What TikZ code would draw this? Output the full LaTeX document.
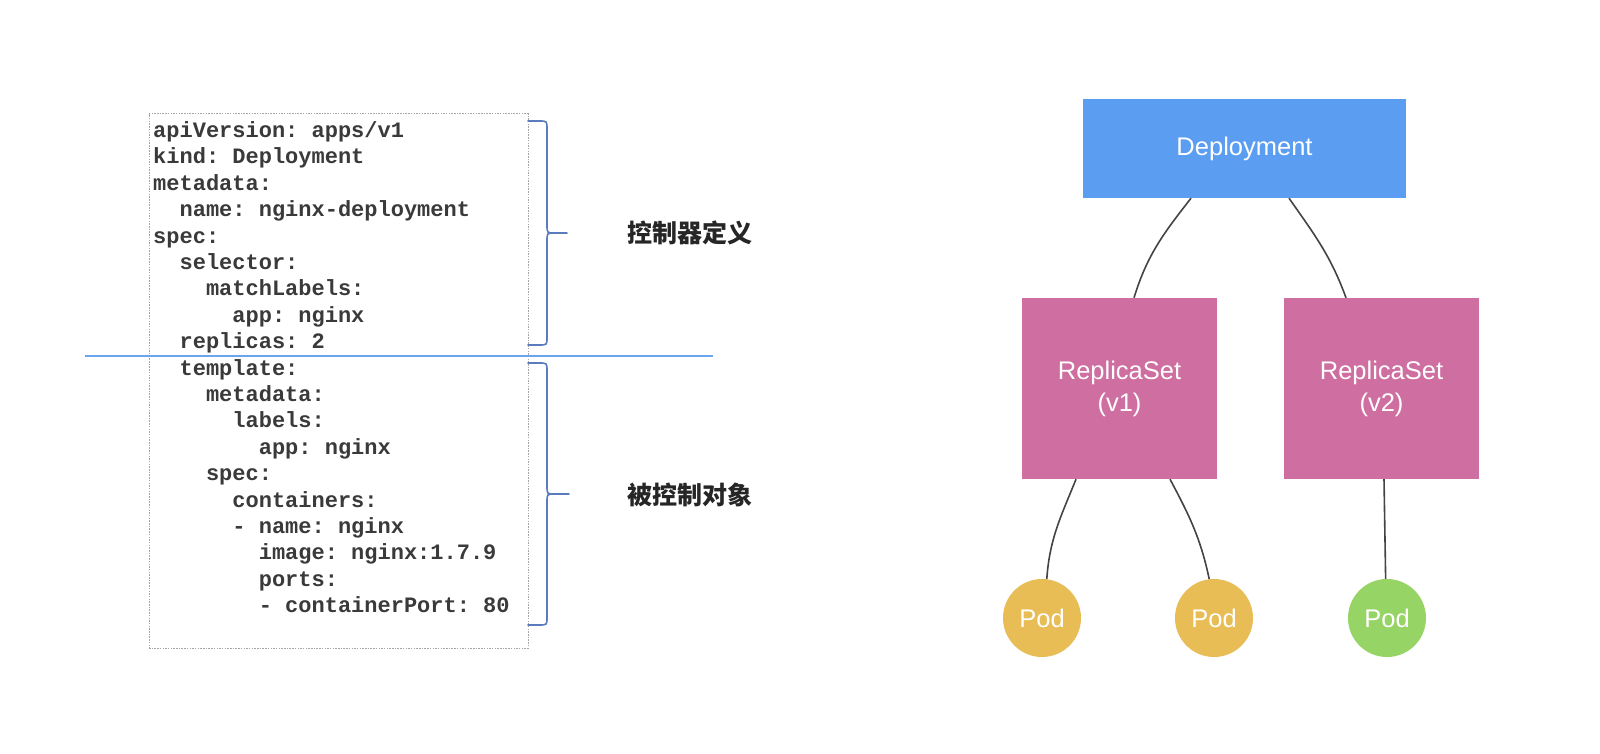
\documentclass[tikz,border=0pt]{standalone}
\usepackage{fontspec}
\setmainfont{Liberation Sans}
\newfontfamily\codefont{Liberation Mono}
\newfontfamily\cjk{Noto Sans CJK SC}
\definecolor{depblue}{HTML}{5B9DF1}
\definecolor{rspink}{HTML}{CF6EA0}
\definecolor{podyellow}{HTML}{E8BD55}
\definecolor{podgreen}{HTML}{96D465}
\definecolor{linkgray}{HTML}{444444}
\definecolor{codegray}{HTML}{3A3A3A}
\definecolor{bracecol}{HTML}{5A7CBC}
\definecolor{splitblue}{HTML}{6AA5EE}
\begin{document}
\begin{tikzpicture}[x=1pt,y=-1pt,
  box/.style={rectangle,draw=none,inner sep=0pt,text=white,align=center,
    font=\fontsize{25.5}{32}\selectfont},
  podnode/.style={circle,draw=none,inner sep=0pt,minimum size=78pt,text=white,
    font=\fontsize{25.5}{30}\selectfont},
  link/.style={draw=linkgray,line width=1.6pt},
  codeline/.style={anchor=base west,inner sep=0pt,text=codegray,
    font=\codefont\bfseries\fontsize{22}{26}\selectfont\frenchspacing},
  cjklabel/.style={anchor=west,inner sep=0pt,text=black!85,
    font=\cjk\bfseries\fontsize{25}{30}\selectfont},
  bracestyle/.style={draw=bracecol,line width=1.6pt,line cap=round,line join=round}]
\useasboundingbox[fill=white] (0,0) rectangle (1600,754);

% code box
\node[rectangle,draw=black!35,line width=1pt,dash pattern=on 1.5pt off 1.2pt,
  minimum width=379pt,minimum height=534pt,inner sep=0pt] (codebox) at (338.5,381) {};

\def\cw{13.2}
\def\lh{26.4}
\node[codeline] (l1) at (153,137.5) {apiVersion: apps/v1};
\node[codeline] (l2) at (153,137.5+1*\lh) {kind: Deployment};
\node[codeline] (l3) at (153,137.5+2*\lh) {metadata:};
\node[codeline] (l4) at (153+2*\cw,137.5+3*\lh) {name: nginx-deployment};
\node[codeline] (l5) at (153,137.5+4*\lh) {spec:};
\node[codeline] (l6) at (153+2*\cw,137.5+5*\lh) {selector:};
\node[codeline] (l7) at (153+4*\cw,137.5+6*\lh) {matchLabels:};
\node[codeline] (l8) at (153+6*\cw,137.5+7*\lh) {app: nginx};
\node[codeline] (l9) at (153+2*\cw,137.5+8*\lh) {replicas: 2};
\node[codeline] (l10) at (153+2*\cw,137.5+9*\lh) {template:};
\node[codeline] (l11) at (153+4*\cw,137.5+10*\lh) {metadata:};
\node[codeline] (l12) at (153+6*\cw,137.5+11*\lh) {labels:};
\node[codeline] (l13) at (153+8*\cw,137.5+12*\lh) {app: nginx};
\node[codeline] (l14) at (153+4*\cw,137.5+13*\lh) {spec:};
\node[codeline] (l15) at (153+6*\cw,137.5+14*\lh) {containers:};
\node[codeline] (l16) at (153+6*\cw,137.5+15*\lh) {- name: nginx};
\node[codeline] (l17) at (153+8*\cw,137.5+16*\lh) {image: nginx:1.7.9};
\node[codeline] (l18) at (153+8*\cw,137.5+17*\lh) {ports:};
\node[codeline] (l19) at (153+8*\cw,137.5+18*\lh) {- containerPort: 80};

% split line
\coordinate (splitL) at (85,356);
\coordinate (splitR) at (713,356);
\draw[draw=splitblue,line width=1.5pt] (splitL) -- (splitR);

% braces
\draw[bracestyle] (528,121) -- (539,121) .. controls (547,121) .. (547,129)
  -- (547,225) .. controls (547,233) .. (555,233) -- (567,233);
\draw[bracestyle] (555,233) .. controls (547,233) .. (547,241)
  -- (547,337) .. controls (547,345) .. (539,345) -- (528,345);
\draw[bracestyle] (528,363) -- (539,363) .. controls (547,363) .. (547,371)
  -- (547,486) .. controls (547,494) .. (555,494) -- (569,494);
\draw[bracestyle] (555,494) .. controls (547,494) .. (547,502)
  -- (547,617) .. controls (547,625) .. (539,625) -- (528,625);

\node[cjklabel] (ctrl) at (627,233) {控制器定义};
\node[cjklabel] (obj) at (627,495) {被控制对象};

% tree
\node[box,fill=depblue,minimum width=323pt,minimum height=99pt] (dep) at (1244.5,148.5) {Deployment};
\node[box,fill=rspink,minimum width=195pt,minimum height=181pt] (rs1) at (1119.5,388.5) {ReplicaSet\\(v1)};
\node[box,fill=rspink,minimum width=195pt,minimum height=181pt] (rs2) at (1381.5,388.5) {ReplicaSet\\(v2)};
\node[podnode,fill=podyellow] (pod1) at (1042,618) {Pod};
\node[podnode,fill=podyellow] (pod2) at (1214,618) {Pod};
\node[podnode,fill=podgreen] (pod3) at (1387,618) {Pod};

\draw[link] ([xshift=-53.5pt]dep.south) to[out=-128,in=73] ([xshift=14.5pt]rs1.north);
\draw[link] ([xshift=44.5pt]dep.south) to[out=-55,in=110] ([xshift=-35.5pt]rs2.north);
\draw[link] ([xshift=-43.5pt]rs1.south) to[out=-112,in=86] (pod1.83);
\draw[link] ([xshift=50.5pt]rs1.south) to[out=-62,in=102] (pod2.97);
\draw[link] ([xshift=2.5pt]rs2.south) -- (pod3.92);
\end{tikzpicture}
\end{document}
